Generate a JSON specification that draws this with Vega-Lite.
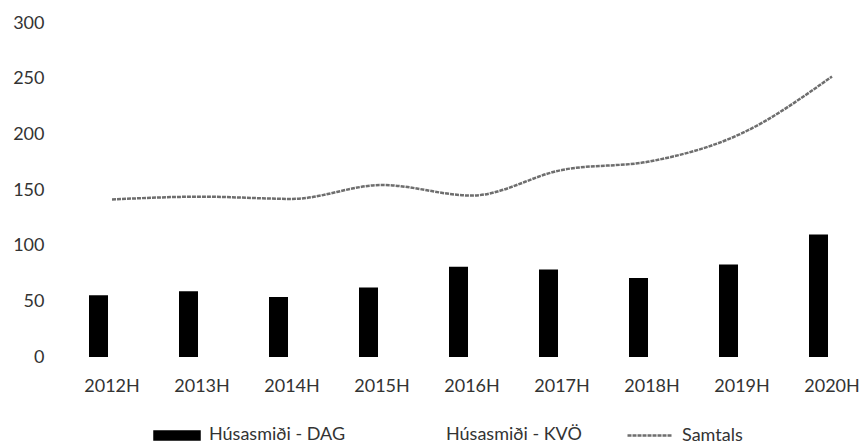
{
  "$schema": "https://vega.github.io/schema/vega-lite/v6.json",
  "autosize": {"type": "none"},
  "width": 810,
  "height": 334,
  "padding": {"left": 67, "top": 23, "right": 0, "bottom": 89},
  "background": "white",
  "config": {
    "view": {"stroke": null},
    "font": "Lato",
    "axis": {"labelFont": "Lato", "labelFontSize": 18, "labelColor": "#333333", "grid": false, "domain": false, "ticks": false, "title": null},
    "legend": {"labelFont": "Lato", "labelFontSize": 18, "labelColor": "#333333"}
  },
  "data": {
    "values": [
      {"year": "2012H", "series": "Húsasmiði - DAG", "value": 55.5},
      {"year": "2013H", "series": "Húsasmiði - DAG", "value": 59},
      {"year": "2014H", "series": "Húsasmiði - DAG", "value": 54},
      {"year": "2015H", "series": "Húsasmiði - DAG", "value": 62.5},
      {"year": "2016H", "series": "Húsasmiði - DAG", "value": 81},
      {"year": "2017H", "series": "Húsasmiði - DAG", "value": 78.5},
      {"year": "2018H", "series": "Húsasmiði - DAG", "value": 71},
      {"year": "2019H", "series": "Húsasmiði - DAG", "value": 83},
      {"year": "2020H", "series": "Húsasmiði - DAG", "value": 110},
      {"year": "2012H", "series": "Húsasmiði - KVÖ", "value": 86},
      {"year": "2013H", "series": "Húsasmiði - KVÖ", "value": 85},
      {"year": "2014H", "series": "Húsasmiði - KVÖ", "value": 88},
      {"year": "2015H", "series": "Húsasmiði - KVÖ", "value": 92},
      {"year": "2016H", "series": "Húsasmiði - KVÖ", "value": 64},
      {"year": "2017H", "series": "Húsasmiði - KVÖ", "value": 89.5},
      {"year": "2018H", "series": "Húsasmiði - KVÖ", "value": 105},
      {"year": "2019H", "series": "Húsasmiði - KVÖ", "value": 118},
      {"year": "2020H", "series": "Húsasmiði - KVÖ", "value": 142},
      {"year": "2012H", "series": "Samtals", "value": 141.5},
      {"year": "2013H", "series": "Samtals", "value": 144},
      {"year": "2014H", "series": "Samtals", "value": 142},
      {"year": "2015H", "series": "Samtals", "value": 154.5},
      {"year": "2016H", "series": "Samtals", "value": 145},
      {"year": "2017H", "series": "Samtals", "value": 168},
      {"year": "2018H", "series": "Samtals", "value": 176},
      {"year": "2019H", "series": "Samtals", "value": 201},
      {"year": "2020H", "series": "Samtals", "value": 252}
    ]
  },
  "encoding": {
    "x": {
      "field": "year",
      "type": "nominal",
      "sort": null,
      "scale": {"paddingInner": 0, "paddingOuter": 0},
      "axis": {"labelAngle": 0, "labelPadding": 20}
    },
    "y": {
      "field": "value",
      "type": "quantitative",
      "scale": {"domain": [0, 300], "nice": false},
      "axis": {"values": [0, 50, 100, 150, 200, 250, 300], "labelPadding": 23}
    },
    "color": {
      "field": "series",
      "type": "nominal",
      "scale": {
        "domain": ["Húsasmiði - DAG", "Húsasmiði - KVÖ", "Samtals"],
        "range": ["#000000", "#ffffff", "#6e6e6e"]
      },
      "legend": {
        "title": null,
        "orient": "none",
        "direction": "horizontal",
        "legendX": 86,
        "legendY": 388,
        "padding": 0,
        "symbolSize": 2025,
        "labelOffset": 8,
        "columnPadding": 40,
        "encode": {
          "symbols": {
            "update": {
              "shape": {"signal": "datum.value === 'Samtals' ? 'M-1,0H1' : 'M-1,-0.18H1V0.18H-1Z'"},
              "fill": {"signal": "datum.value === 'Samtals' ? 'transparent' : (datum.value === 'Húsasmiði - KVÖ' ? '#ffffff' : '#000000')"},
              "stroke": {"signal": "datum.value === 'Samtals' ? '#6e6e6e' : 'transparent'"},
              "strokeWidth": {"value": 2.5},
              "strokeDash": {"signal": "datum.value === 'Samtals' ? [4, 1] : []"},
              "opacity": {"value": 1}
            }
          }
        }
      }
    }
  },
  "layer": [
    {
      "transform": [{"filter": "datum.series !== 'Samtals'"}],
      "mark": {"type": "bar", "opacity": 1},
      "encoding": {
        "xOffset": {
          "field": "series",
          "type": "nominal",
          "scale": {"domain": ["Húsasmiði - DAG", "Húsasmiði - KVÖ"], "paddingInner": 0.296, "paddingOuter": 0.815}
        }
      }
    },
    {
      "transform": [{"filter": "datum.series === 'Samtals'"}],
      "mark": {"type": "line", "interpolate": "monotone", "strokeWidth": 2.5, "strokeDash": [4, 1]},
      "encoding": {}
    }
  ]
}
